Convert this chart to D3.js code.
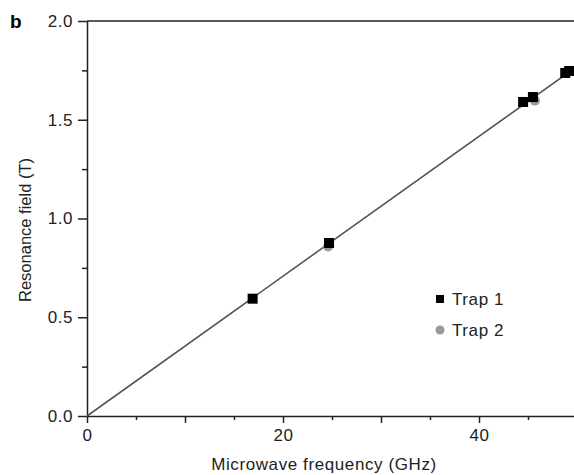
<!DOCTYPE html>
<html lang="en">
    <head>
        <meta charset="utf-8">
        <title>Resonance field vs microwave frequency</title>
        <script type="text/javascript" src="https://d3js.org/d3.v7.min.js"></script>
        <style type="text/css">
            body{
                margin: 0;
                background: #fff;
            }
            text{
                font-family: 'Liberation Sans', Arial, Helvetica, sans-serif;
                fill: #222;
            }
            .axis path, .axis line{
                stroke: #222;
                stroke-width: 1.5px;
            }
            .axis text{
                font-size: 17px;
                letter-spacing: 0.5px;
            }
        </style>
    </head>

    <body>
        <script type="text/javascript">
            // chart size
            const svgW = 574;
            const svgH = 475;

            // Trap 1 readings [frequency (GHz), field (T)]
            const trap1 = [[16.9, 0.594], [24.7, 0.876], [44.5, 1.590], [45.5, 1.615],
                           [48.8, 1.737], [49.2, 1.747]];
            // Trap 2 readings
            const trap2 = [[24.6, 0.858], [45.7, 1.597]];
            // fitted line
            const fitLine = [[0, 0], [50, 1.77]];

            const xTicks = [0, 10, 20, 30, 40, 50];
            const xMinor = [5, 15, 25, 35, 45];
            const xLabels = [0, 20, 40];
            const yTicks = [0, 0.5, 1.0, 1.5, 2.0];
            const yMinor = [0.25, 0.75, 1.25, 1.75];

            const margin = {top: 21, left: 87, bottom: 59};

            // scales
            const scaleX = d3.scaleLinear()
                            .domain([0, 50])
                            .range([margin.left, margin.left + 490]);
            const scaleY = d3.scaleLinear()
                            .domain([0, 2])
                            .range([svgH - margin.bottom, margin.top]);

            const svg = d3.select("body")
                        .append("svg")
                        .attr("width", svgW)
                        .attr("height", svgH);

            // minor ticks first, so the main axes sit on top
            svg.append("g")
                .attr("class", "axis")
                .attr("transform", "translate(0," + scaleY(0) + ")")
                .call(d3.axisBottom(scaleX).tickValues(xMinor).tickSize(4).tickFormat(""))
                .select(".domain").remove();
            svg.append("g")
                .attr("class", "axis")
                .attr("transform", "translate(" + scaleX(0) + ",0)")
                .call(d3.axisLeft(scaleY).tickValues(yMinor).tickSize(5).tickFormat(""))
                .select(".domain").remove();

            // bottom axis
            svg.append("g")
                .attr("class", "axis")
                .attr("transform", "translate(0," + scaleY(0) + ")")
                .call(d3.axisBottom(scaleX)
                        .tickValues(xTicks)
                        .tickSize(7)
                        .tickSizeOuter(0)
                        .tickPadding(6)
                        .tickFormat(d => xLabels.includes(d) ? d : ""));

            // left axis
            svg.append("g")
                .attr("class", "axis")
                .attr("transform", "translate(" + scaleX(0) + ",0)")
                .call(d3.axisLeft(scaleY)
                        .tickValues(yTicks)
                        .tickSize(9)
                        .tickSizeOuter(0)
                        .tickPadding(5)
                        .tickFormat(d3.format(".1f")));

            // top frame line
            svg.append("line")
                .attr("x1", scaleX(0))
                .attr("x2", scaleX(50))
                .attr("y1", scaleY(2))
                .attr("y2", scaleY(2))
                .attr("stroke", "#222")
                .attr("stroke-width", 1.5);

            // fit line
            svg.append("path")
                .datum(fitLine)
                .attr("fill", "none")
                .attr("stroke", "#555")
                .attr("stroke-width", 1.6)
                .attr("d", d3.line().x(d => scaleX(d[0])).y(d => scaleY(d[1])));

            // trap 2 (grey circles)
            svg.selectAll("circle.trap2")
                .data(trap2)
                .enter()
                .append("circle")
                .attr("class", "trap2")
                .attr("cx", d => scaleX(d[0]))
                .attr("cy", d => scaleY(d[1]))
                .attr("r", 5)
                .attr("fill", "#999");

            // trap 1 (black squares)
            const sq = 10;
            svg.selectAll("rect.trap1")
                .data(trap1)
                .enter()
                .append("rect")
                .attr("class", "trap1")
                .attr("x", d => scaleX(d[0]) - sq / 2)
                .attr("y", d => scaleY(d[1]) - sq / 2)
                .attr("width", sq)
                .attr("height", sq)
                .attr("fill", "#000");

            // legend
            svg.append("rect")
                .attr("x", 436).attr("y", 295)
                .attr("width", 8).attr("height", 8)
                .attr("fill", "#000");
            svg.append("text")
                .attr("x", 452).attr("y", 305)
                .style("font-size", "17px")
                .style("letter-spacing", "0.6px")
                .text("Trap 1");
            svg.append("circle")
                .attr("cx", 440).attr("cy", 330)
                .attr("r", 4.5)
                .attr("fill", "#999");
            svg.append("text")
                .attr("x", 452).attr("y", 336)
                .style("font-size", "17px")
                .style("letter-spacing", "0.6px")
                .text("Trap 2");

            // axis titles
            svg.append("text")
                .attr("x", 324).attr("y", 470)
                .attr("text-anchor", "middle")
                .style("font-size", "17px")
                .style("letter-spacing", "0.6px")
                .text("Microwave frequency (GHz)");
            svg.append("text")
                .attr("transform", "translate(31,230) rotate(-90)")
                .attr("text-anchor", "middle")
                .style("font-size", "16.5px")
                .text("Resonance field (T)");

            // panel letter
            svg.append("text")
                .attr("x", 10).attr("y", 28)
                .style("font-size", "19px")
                .style("font-weight", "900")
                .style("fill", "#000")
                .text("b");
        </script>
    </body>
</html>
